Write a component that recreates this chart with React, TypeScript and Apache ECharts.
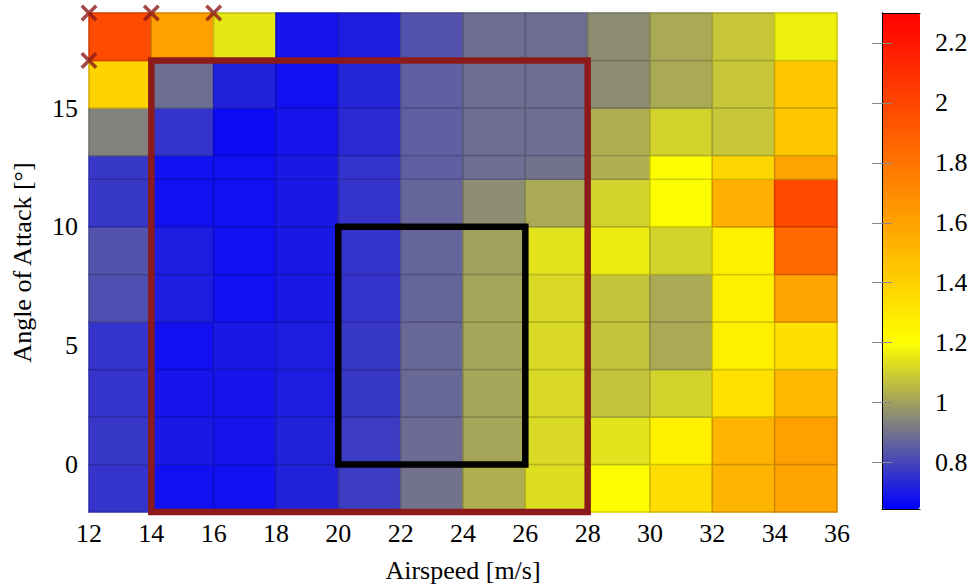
import React, { useEffect, useRef } from "react";
import * as echarts from "echarts";

// ---- data ----
const xEdges = [12, 14, 16, 18, 20, 22, 24, 26, 28, 30, 32, 34, 36];
const yEdges = [-2, 0, 2, 4, 6, 8, 10, 12, 13, 15, 17, 19];
// rows from bottom (y -2..0) to top (y 17..19), columns from x 12..14 to 34..36
const row_m2_0 = [0.76, 0.68, 0.68, 0.72, 0.78, 0.9, 1.03, 1.13, 1.2, 1.35, 1.52, 1.59];
const row_0_2 = [0.77, 0.7, 0.69, 0.72, 0.78, 0.885, 1.01, 1.12, 1.14, 1.265, 1.52, 1.61];
const row_2_4 = [0.76, 0.69, 0.69, 0.71, 0.77, 0.88, 1.01, 1.12, 1.07, 1.105, 1.33, 1.5];
const row_4_6 = [0.76, 0.68, 0.7, 0.71, 0.77, 0.88, 1.01, 1.12, 1.07, 1.02, 1.265, 1.34];
const row_6_8 = [0.82, 0.71, 0.68, 0.7, 0.76, 0.87, 1.01, 1.12, 1.07, 1.02, 1.265, 1.59];
const row_8_10 = [0.83, 0.71, 0.68, 0.7, 0.76, 0.87, 1.0, 1.14, 1.16, 1.105, 1.265, 1.85];
const row_10_12 = [0.77, 0.68, 0.68, 0.7, 0.76, 0.87, 0.957, 1.02, 1.105, 1.2, 1.545, 1.99];
const row_12_13 = [0.77, 0.68, 0.68, 0.7, 0.76, 0.856, 0.89, 0.9, 1.03, 1.2, 1.37, 1.59];
const row_13_15 = [0.935, 0.76, 0.67, 0.69, 0.74, 0.856, 0.89, 0.89, 1.03, 1.105, 1.08, 1.44];
const row_15_17 = [1.39, 0.89, 0.72, 0.68, 0.73, 0.856, 0.89, 0.89, 0.957, 1.02, 1.08, 1.44];
const row_17_19 = [1.98, 1.61, 1.15, 0.69, 0.71, 0.83, 0.89, 0.89, 0.957, 1.02, 1.08, 1.17];
const rows = [row_m2_0, row_0_2, row_2_4, row_4_6, row_6_8, row_8_10, row_10_12, row_12_13, row_13_15, row_15_17, row_17_19];

const markerPoints = [[12, 19], [14, 19], [16, 19], [12, 17]];
const redBox = [[14, -2], [14, 17], [28, 17], [28, -2], [14, -2]];
const blackBox = [[20, 0], [20, 10], [26, 10], [26, 0], [20, 0]];

const yTicks = [0, 5, 10, 15];
const cbarTicks = [0.8, 1, 1.2, 1.4, 1.6, 1.8, 2, 2.2];
const cbarMin = 0.645;
const cbarMax = 2.3;

// ---- colormap (style) ----
const cmapStops: [number, number[]][] = [
  [0.645, [0, 0, 255]],
  [0.93, [128, 128, 128]],
  [1.2, [255, 255, 0]],
  [2.3, [255, 0, 0]],
];
function cmap(v: number): string {
  for (let i = 0; i < cmapStops.length - 1; i++) {
    const [a, ca] = cmapStops[i];
    const [b, cb] = cmapStops[i + 1];
    if (v <= b || i === cmapStops.length - 2) {
      const f = Math.max(0, Math.min(1, (v - a) / (b - a)));
      const c = ca.map((x, k) => Math.round(x + (cb[k] - x) * f));
      return `rgb(${c[0]},${c[1]},${c[2]})`;
    }
  }
  return "rgb(255,0,0)";
}
const paletteSteps = 120;
const palette: string[] = [];
for (let i = 0; i <= paletteSteps; i++) palette.push(cmap(cbarMin + ((cbarMax - cbarMin) * i) / paletteSteps));

function darken(color: string, k: number): string {
  const c = echarts.color.parse(color) as number[] | undefined;
  if (!c) return color;
  return `rgb(${Math.round(c[0] * k)},${Math.round(c[1] * k)},${Math.round(c[2] * k)})`;
}

const FONT = "'Liberation Serif', 'Times New Roman', serif";
const FS = 26;
const XPATH = "path://M3,0 L10,7 L17,0 L20,3 L13,10 L20,17 L17,20 L10,13 L3,20 L0,17 L7,10 L0,3 Z";

export default function App() {
  const ref = useRef<HTMLDivElement>(null);
  useEffect(() => {
    if (!ref.current) return;
    const chart = echarts.init(ref.current, undefined, { renderer: "svg" });
    const cells: number[][] = [];
    rows.forEach((row, r) => {
      row.forEach((v, c) => {
        cells.push([xEdges[c], xEdges[c + 1], yEdges[r], yEdges[r + 1], v]);
      });
    });
    const labelStyle = { fontFamily: FONT, fontSize: FS, color: "#000" };
    chart.setOption({
      animation: false,
      textStyle: { fontFamily: FONT },
      grid: [
        { left: 89, top: 13, width: 748, height: 499, outerBoundsMode: "none", containLabel: false },
        { left: 882, top: 13, width: 38, height: 496, outerBoundsMode: "none", containLabel: false },
      ],
      xAxis: [
        {
          type: "value",
          gridIndex: 0,
          min: 12,
          max: 36,
          interval: 2,
          name: "Airspeed [m/s]",
          nameLocation: "middle",
          nameGap: 45,
          nameTextStyle: labelStyle,
          axisLabel: { ...labelStyle, margin: 8 },
          axisTick: { show: false },
          splitLine: { show: false },
          axisLine: { lineStyle: { color: "#999", width: 1 } },
        },
        {
          type: "value", gridIndex: 1, position: "bottom", min: 0, max: 1,
          axisLabel: { show: false }, axisTick: { show: false }, splitLine: { show: false },
          axisLine: { lineStyle: { color: "#000", width: 1 } }, z: 10,
        },
        {
          type: "value", gridIndex: 1, position: "top", min: 0, max: 1,
          axisLabel: { show: false }, axisTick: { show: false }, splitLine: { show: false },
          axisLine: { lineStyle: { color: "#000", width: 1 } }, z: 10,
        },
      ],
      yAxis: [
        {
          type: "value",
          gridIndex: 0,
          min: -2,
          max: 19,
          name: "Angle of Attack [°]",
          nameLocation: "middle",
          nameGap: 54,
          nameTextStyle: labelStyle,
          axisLabel: { ...labelStyle, margin: 11, customValues: yTicks },
          axisTick: { show: false },
          splitLine: { show: false },
          axisLine: { lineStyle: { color: "#999", width: 1 } },
        },
        {
          type: "value", gridIndex: 1, position: "right", min: cbarMin, max: cbarMax,
          axisLabel: { ...labelStyle, margin: 15, customValues: cbarTicks },
          axisTick: { inside: true, length: 10, customValues: cbarTicks, lineStyle: { color: "#888", width: 1 } },
          splitLine: { show: false },
          axisLine: { lineStyle: { color: "#000", width: 1 } }, z: 10,
        },
        {
          type: "value", gridIndex: 1, position: "left", min: cbarMin, max: cbarMax,
          axisLabel: { show: false },
          axisTick: { inside: true, length: 10, customValues: cbarTicks, lineStyle: { color: "#888", width: 1 } },
          splitLine: { show: false },
          axisLine: { lineStyle: { color: "#000", width: 1 } }, z: 10,
        },
      ],
      visualMap: {
        type: "continuous",
        min: cbarMin,
        max: cbarMax,
        dimension: 4,
        seriesIndex: 0,
        inRange: { color: palette },
        orient: "vertical",
        left: 882,
        top: 13,
        itemWidth: 38,
        itemHeight: 496,
        padding: 0,
        calculable: false,
        hoverLink: false,
        text: ["", ""],
        textGap: 0,
      },
      series: [
        {
          type: "custom",
          xAxisIndex: 0,
          yAxisIndex: 0,
          data: cells,
          encode: { x: [0, 1], y: [2, 3] },
          renderItem: (params: any, api: any) => {
            const p0 = api.coord([api.value(0), api.value(3)]);
            const p1 = api.coord([api.value(1), api.value(2)]);
            const color = api.visual("color");
            return {
              type: "rect",
              shape: { x: p0[0], y: p0[1], width: p1[0] - p0[0], height: p1[1] - p0[1] },
              style: { fill: color, stroke: darken(color, 0.82), lineWidth: 1.5 },
            };
          },
          z: 2,
        },
        {
          type: "line",
          xAxisIndex: 0,
          yAxisIndex: 0,
          data: redBox,
          symbol: "none",
          clip: false,
          lineStyle: { color: "#8c1a1a", width: 6.5, join: "miter", cap: "square" },
          z: 5,
        },
        {
          type: "line",
          xAxisIndex: 0,
          yAxisIndex: 0,
          data: blackBox,
          symbol: "none",
          clip: false,
          lineStyle: { color: "#000", width: 6.5, join: "miter", cap: "square" },
          z: 5,
        },
        {
          type: "scatter",
          xAxisIndex: 0,
          yAxisIndex: 0,
          data: markerPoints,
          symbol: XPATH,
          symbolSize: 17,
          clip: false,
          itemStyle: { color: "#8c1a1a" },
          z: 6,
        },
      ],
    });
    return () => chart.dispose();
  }, []);
  return <div ref={ref} style={{ position: "absolute", left: 0, top: 0, width: 967, height: 587 }} />;
}
